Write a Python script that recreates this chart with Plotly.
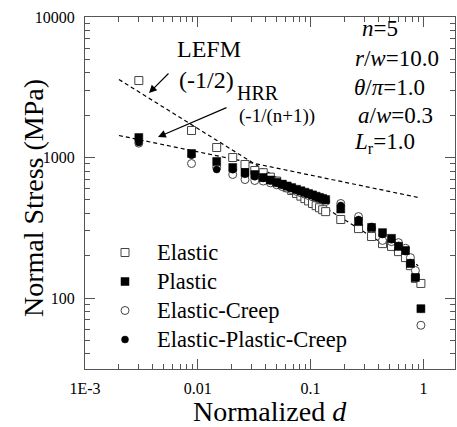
import plotly.graph_objects as go

# ---------------- data ----------------
norm_d = [0.003, 0.0088, 0.0147, 0.0204, 0.0262, 0.032,
          0.038, 0.044, 0.050, 0.056, 0.062, 0.068, 0.075, 0.082, 0.089,
          0.096, 0.104, 0.112, 0.120, 0.128, 0.136,
          0.185, 0.266, 0.347, 0.434, 0.521, 0.601, 0.693, 0.767, 0.849, 0.95]

elastic = [3530, 1557, 1178, 1000, 892, 808,
           780, 725, 680, 642, 610, 583, 555, 531, 510,
           491, 471, 454, 439, 425, 412,
           362, 312, 274, 244, 233, 214, 194, 170, 138, 127]

plastic = [1388, 1068, 937, 849, 782, 757,
           721, 692, 667, 646, 627, 611, 594, 580, 566,
           554, 542, 530, 520, 511, 502,
           430, 350, 318, 292, 266, 233, 218, 176, 140, 84]

elastic_creep = [1265, 906, 850, 757, 697, 686,
                 680, 660, 640, 622, 605, 590, 574, 561, 548,
                 536, 525, 514, 504, 496, 487,
                 471, 380, 312, 257, 252, 248, 226, 194, 157, 64]

elastic_plastic_creep = [1279, 1040, 822, 820, 760, 730,
                         710, 682, 657, 636, 618, 602, 585, 571, 558,
                         546, 534, 522, 512, 503, 495,
                         456, 362, 323, 283, 260, 237, 214, 179, 140, 84]

lefm_x = [0.002, 0.9]
lefm_y = [3590, 170]
hrr_x = [0.002, 0.9]
hrr_y = [1435, 520]

x_tickvals = [0.001, 0.01, 0.1, 1]
x_ticktext = ["1E-3", "0.01", "0.1", "1"]
y_tickvals = [100, 1000, 10000]
y_ticktext = ["100", "1000", "10000"]

# ---------------- layout helpers (pixel -> axis coords) ----------------
W, H = 457, 427
L, R, T, B = 85, 2, 17, 58
XR = [-3, 0.28]
YR = [1.495, 4.0]
pw, ph = W - L - R, H - T - B


def lx(px):
    return XR[0] + (px - L) / pw * (XR[1] - XR[0])


def ly(py):
    return YR[1] - (py - T) / ph * (YR[1] - YR[0])


FONT = "Liberation Serif, Times New Roman, serif"

fig = go.Figure()

fig.add_trace(go.Scatter(x=lefm_x, y=lefm_y, mode="lines", showlegend=False,
                         line=dict(color="black", width=1.2, dash="4px,3px")))
fig.add_trace(go.Scatter(x=hrr_x, y=hrr_y, mode="lines", showlegend=False,
                         line=dict(color="black", width=1.2, dash="4px,3px")))


def lname(s):
    return '<span style="font-size:22.5px">' + s + '</span>'


fig.add_trace(go.Scatter(x=norm_d, y=elastic, mode="markers", name=lname("Elastic"),
                         legendrank=1,
                         marker=dict(symbol="square", size=8, color="white",
                                     line=dict(color="#444", width=1))))
fig.add_trace(go.Scatter(x=norm_d, y=elastic_creep, mode="markers",
                         name=lname("Elastic-Creep"), legendrank=3,
                         marker=dict(symbol="circle", size=8, color="white",
                                     line=dict(color="#444", width=1))))
fig.add_trace(go.Scatter(x=norm_d, y=plastic, mode="markers", name=lname("Plastic"),
                         legendrank=2,
                         marker=dict(symbol="square", size=8, color="black",
                                     line=dict(color="black", width=0.5))))
fig.add_trace(go.Scatter(x=norm_d, y=elastic_plastic_creep, mode="markers",
                         name=lname("Elastic-Plastic-Creep"), legendrank=4,
                         marker=dict(symbol="circle", size=7, color="black",
                                     line=dict(color="black", width=0.5))))

ann = []
ann.append(dict(x=lx(209), y=ly(49), text="LEFM", showarrow=False,
                font=dict(size=24, family=FONT, color="black")))
ann.append(dict(x=lx(206), y=ly(80), text="(-1/2)", showarrow=False,
                font=dict(size=24, family=FONT, color="black")))
ann.append(dict(x=lx(258), y=ly(93), text="HRR", showarrow=False,
                font=dict(size=20, family=FONT, color="black")))
ann.append(dict(x=lx(277), y=ly(116), text="(-1/(n+1))", showarrow=False,
                font=dict(size=19, family=FONT, color="black")))
# arrows
ann.append(dict(x=lx(149), y=ly(93), ax=lx(170), ay=ly(72), axref="x", ayref="y",
                text="", showarrow=True, arrowhead=2, arrowsize=1.3,
                arrowwidth=1.2, arrowcolor="black"))
ann.append(dict(x=lx(158), y=ly(137), ax=lx(228), ay=ly(107), axref="x", ayref="y",
                text="", showarrow=True, arrowhead=2, arrowsize=1.3,
                arrowwidth=1.2, arrowcolor="black"))
# parameter block
params = [("<i>n</i>=5", 360, 28),
          ("<i>r</i>/<i>w</i>=10.0", 353, 58),
          ("<i>θ</i>/<i>π</i>=1.0", 352, 87),
          ("<i>a</i>/<i>w</i>=0.3", 356, 115),
          ("<i>L</i><sub>r</sub>=1.0", 352, 143)]
for txt, px, py in params:
    ann.append(dict(x=lx(px), y=ly(py), text=txt, showarrow=False,
                    xanchor="left", yanchor="middle",
                    font=dict(size=23, family=FONT, color="black")))
# axis titles
ann.append(dict(xref="paper", yref="paper", x=(270 - L) / pw, y=-(411 - T - ph) / ph,
                text="Normalized <i>d</i>", showarrow=False, yanchor="middle",
                font=dict(size=28, family=FONT, color="black")))
ann.append(dict(xref="paper", yref="paper", x=-(L - 33) / pw, y=1 - (198 - T) / ph,
                text="Normal Stress (MPa)", showarrow=False, textangle=-90,
                xanchor="center", yanchor="middle",
                font=dict(size=28, family=FONT, color="black")))

axis_common = dict(showline=True, linecolor="#555", linewidth=1, mirror="ticks",
                   ticks="inside", ticklen=10, tickcolor="#555", tickwidth=1,
                   showgrid=False, zeroline=False, automargin=False,
                   tickfont=dict(size=16, family=FONT, color="black"),
                   minor=dict(ticks="inside", ticklen=5, tickcolor="#555",
                              dtick="D1", showgrid=False))

fig.update_xaxes(type="log", range=XR, tickvals=x_tickvals, ticktext=x_ticktext,
                 ticklabelstandoff=5, **axis_common)
fig.update_yaxes(type="log", range=YR, tickvals=y_tickvals, ticktext=y_ticktext,
                 ticklabelstandoff=6, **axis_common)

fig.update_layout(
    width=W, height=H,
    margin=dict(l=L, r=R, t=T, b=B),
    paper_bgcolor="white", plot_bgcolor="white",
    font=dict(family=FONT, color="black"),
    annotations=ann,
    legend=dict(x=(93 - L) / pw, y=1 - (233 - T) / ph, xanchor="left", yanchor="top",
                bgcolor="rgba(0,0,0,0)", borderwidth=0, itemwidth=54,
                font=dict(size=20, family=FONT, color="black"),
                tracegroupgap=0),
    showlegend=True,
)

fig.write_html("out.html", config={"displayModeBar": False},
               post_script="document.body.style.margin='0';document.body.style.padding='0';")
